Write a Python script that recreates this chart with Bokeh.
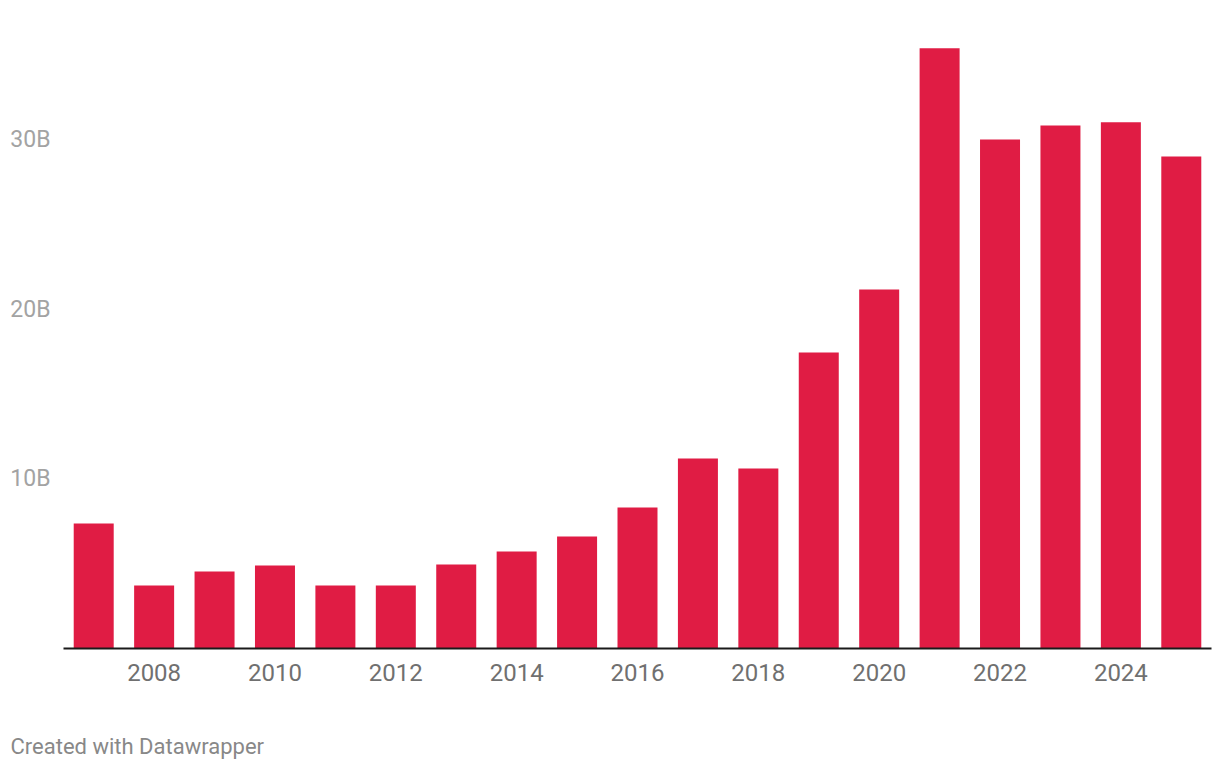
from bokeh.plotting import figure
from bokeh.models import FixedTicker, Title, Range1d
from bokeh.embed import file_html
from bokeh.resources import INLINE

years = list(range(2007, 2026))
values_b = [7.37, 3.71, 4.54, 4.89, 3.71, 3.71, 4.95, 5.72, 6.60, 8.31,
            11.20, 10.61, 17.44, 21.15, 35.36, 29.99, 30.82, 31.0, 28.99]
y_ticks = [10, 20, 30]
y_tick_labels = ["10B", "20B", "30B"]
x_ticks = [2008, 2010, 2012, 2014, 2016, 2018, 2020, 2022, 2024]

FONT = "Roboto"
BAR = "#e01c44"

p = figure(width=1212, height=768, output_backend="svg", toolbar_location=None,
           x_range=Range1d(2006.5, 2025.5), y_range=Range1d(0, 37),
           min_border_left=63, min_border_right=1, min_border_top=20,
           min_border_bottom=120)
p.outline_line_color = None
p.background_fill_color = "white"
p.border_fill_color = "white"
p.xgrid.visible = False
p.ygrid.visible = False

p.vbar(x=years, top=values_b, width=0.662, color=BAR, line_color=None)

# y axis
ya = p.yaxis[0]
ya.ticker = FixedTicker(ticks=y_ticks)
ya.major_label_overrides = {t: l for t, l in zip(y_ticks, y_tick_labels)}
ya.axis_line_color = None
ya.major_tick_line_color = None
ya.minor_tick_line_color = None
ya.major_tick_out = 0
ya.major_tick_in = 0
ya.major_label_standoff = 13
ya.major_label_text_font = FONT
ya.major_label_text_font_size = "23px"
ya.major_label_text_color = "#a3a3a3"

# x axis
xa = p.xaxis[0]
xa.ticker = FixedTicker(ticks=x_ticks)
xa.axis_line_color = "#1a1a1a"
xa.axis_line_width = 2
xa.major_tick_line_color = None
xa.minor_tick_line_color = None
xa.major_tick_out = 0
xa.major_tick_in = 0
xa.major_label_standoff = 15
xa.major_label_text_font = FONT
xa.major_label_text_font_size = "24px"
xa.major_label_text_color = "#707070"

spacer = Title(text=" ", standoff=16, text_font=FONT, text_font_size="22px")
p.add_layout(spacer, "below")
footer = Title(text="Created with Datawrapper", align="left", offset=-53,
               standoff=10, text_font=FONT, text_font_size="22px",
               text_color="#888888", text_font_style="normal")
p.add_layout(footer, "below")

open("out.html", "w").write(file_html(p, INLINE))
